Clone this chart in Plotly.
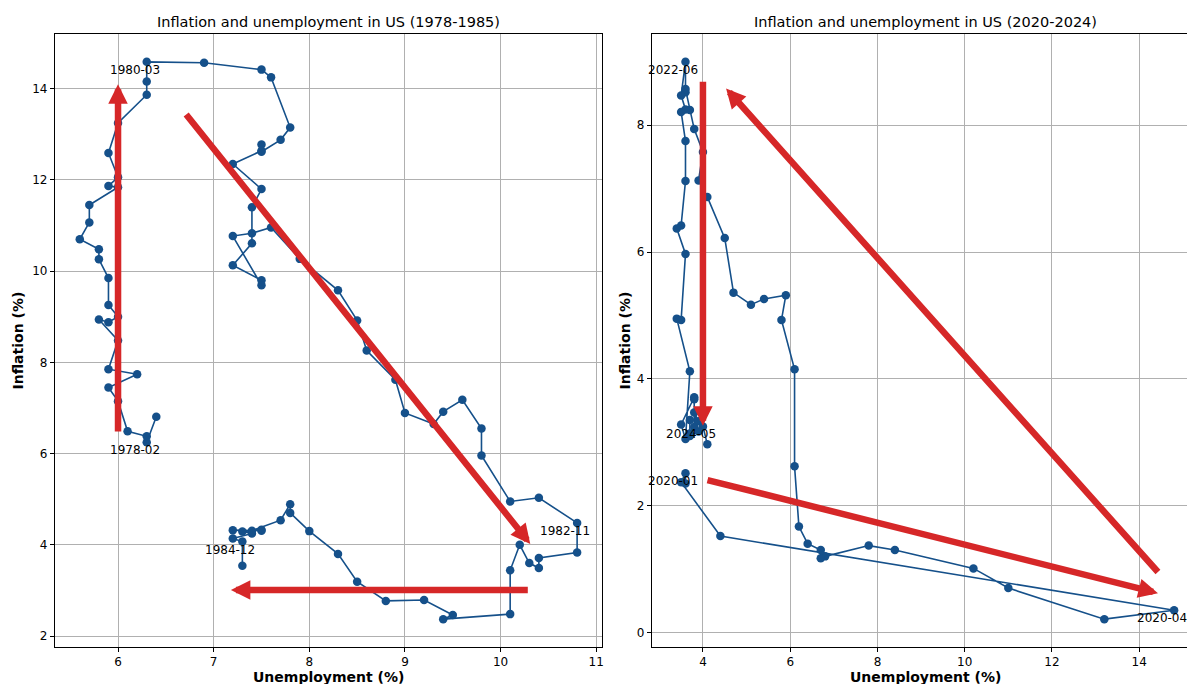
import plotly.graph_objects as go

# ---------------- data: US 1978-1985 ----------------
dates_7885 = ["1978-01","1978-02","1978-03","1978-04","1978-05","1978-06","1978-07","1978-08","1978-09","1978-10","1978-11","1978-12",
              "1979-01","1979-02","1979-03","1979-04","1979-05","1979-06","1979-07","1979-08","1979-09","1979-10","1979-11","1979-12",
              "1980-01","1980-02","1980-03","1980-04","1980-05","1980-06","1980-07","1980-08","1980-09","1980-10","1980-11","1980-12",
              "1981-01","1981-02","1981-03","1981-04","1981-05","1981-06","1981-07","1981-08","1981-09","1981-10","1981-11","1981-12",
              "1982-01","1982-02","1982-03","1982-04","1982-05","1982-06","1982-07","1982-08","1982-09","1982-10","1982-11","1982-12",
              "1983-01","1983-02","1983-03","1983-04","1983-05","1983-06","1983-07","1983-08","1983-09","1983-10","1983-11","1983-12",
              "1984-01","1984-02","1984-03","1984-04","1984-05","1984-06","1984-07","1984-08","1984-09","1984-10","1984-11","1984-12",
              "1985-01"]
unemp_7885 = [6.4, 6.3, 6.3, 6.1, 6.0, 5.9, 6.2, 5.9, 6.0, 5.8, 5.9, 6.0,
              5.9, 5.9, 5.8, 5.8, 5.6, 5.7, 5.7, 6.0, 5.9, 6.0, 5.9, 6.0,
              6.3, 6.3, 6.3, 6.9, 7.5, 7.6, 7.8, 7.7, 7.5, 7.5, 7.5, 7.2,
              7.5, 7.4, 7.4, 7.2, 7.5, 7.5, 7.2, 7.4, 7.6, 7.9, 8.3, 8.5,
              8.6, 8.9, 9.0, 9.3, 9.4, 9.6, 9.8, 9.8, 10.1, 10.4, 10.8, 10.8,
              10.4, 10.4, 10.3, 10.2, 10.1, 10.1, 9.4, 9.5, 9.2, 8.8, 8.5, 8.3,
              8.0, 7.8, 7.8, 7.7, 7.4, 7.2, 7.5, 7.5, 7.3, 7.4, 7.2, 7.3,
              7.3]
infl_7885 = [6.81, 6.25, 6.38, 6.49, 7.15, 7.45, 7.74, 7.85, 8.48, 8.94, 8.88, 9.00,
             9.26, 9.85, 10.26, 10.48, 10.70, 11.07, 11.45, 11.84, 11.87, 12.06, 12.59, 13.25,
             13.87, 14.16, 14.59, 14.57, 14.42, 14.25, 13.15, 12.88, 12.62, 12.78, 12.64, 12.35,
             11.80, 11.40, 10.61, 10.13, 9.80, 9.69, 10.77, 10.83, 10.96, 10.27, 9.58, 8.92,
             8.26, 7.62, 6.89, 6.65, 6.92, 7.18, 6.55, 5.96, 4.95, 5.03, 4.48, 3.83,
             3.71, 3.49, 3.60, 4.00, 3.44, 2.48, 2.37, 2.46, 2.79, 2.77, 3.19, 3.80,
             4.30, 4.70, 4.89, 4.54, 4.31, 4.32, 4.31, 4.33, 4.29, 4.25, 4.14, 4.07,
             3.54]
labels_7885 = ["1978-02", "1980-03", "1982-11", "1984-12"]
# arrows (tail_x, tail_y, tip_x, tip_y)
arrows_7885 = [(6.0, 6.45, 6.0, 14.1),
               (6.7, 13.47, 10.31, 4.02),
               (10.3, 3.01, 7.18, 3.01)]

# ---------------- data: US 2020-2024 ----------------
dates_2024 = ["2019-12",
              "2020-01","2020-02","2020-03","2020-04","2020-05","2020-06","2020-07","2020-08","2020-09","2020-10","2020-11","2020-12",
              "2021-01","2021-02","2021-03","2021-04","2021-05","2021-06","2021-07","2021-08","2021-09","2021-10","2021-11","2021-12",
              "2022-01","2022-02","2022-03","2022-04","2022-05","2022-06","2022-07","2022-08","2022-09","2022-10","2022-11","2022-12",
              "2023-01","2023-02","2023-03","2023-04","2023-05","2023-06","2023-07","2023-08","2023-09","2023-10","2023-11","2023-12",
              "2024-01","2024-02","2024-03","2024-04","2024-05","2024-06"]
unemp_2024 = [3.6,
              3.6, 3.5, 4.4, 14.8, 13.2, 11.0, 10.2, 8.4, 7.8, 6.8, 6.7, 6.7,
              6.4, 6.2, 6.1, 6.1, 5.8, 5.9, 5.4, 5.1, 4.7, 4.5, 4.1, 3.9,
              4.0, 3.8, 3.6, 3.7, 3.6, 3.6, 3.5, 3.6, 3.5, 3.6, 3.6, 3.5,
              3.4, 3.6, 3.5, 3.4, 3.7, 3.6, 3.5, 3.8, 3.8, 3.8, 3.7, 3.7,
              3.7, 3.9, 3.8, 3.9, 4.0, 4.1]
infl_2024 = [2.35,
             2.51, 2.37, 1.52, 0.35, 0.21, 0.70, 1.01, 1.30, 1.37, 1.20, 1.17, 1.30,
             1.40, 1.67, 2.62, 4.15, 4.93, 5.32, 5.26, 5.17, 5.36, 6.22, 6.87, 7.13,
             7.58, 7.94, 8.52, 8.24, 8.57, 9.00, 8.47, 8.25, 8.21, 7.75, 7.12, 6.42,
             6.37, 5.97, 4.93, 4.95, 4.12, 3.05, 3.28, 3.71, 3.68, 3.24, 3.14, 3.35,
             3.10, 3.17, 3.47, 3.33, 3.25, 2.97]
labels_2024 = ["2020-01", "2020-04", "2022-06", "2024-05"]
arrows_2024 = [(4.0, 8.71, 4.0, 3.26),
               (14.46, 0.93, 4.53, 8.58),
               (4.07, 2.41, 14.43, 0.62)]

titles = ["Inflation and unemployment in US (1978-1985)",
          "Inflation and unemployment in US (2020-2024)"]

# ---------------- styling ----------------
W, H = 1189, 684
LINE = "#15508a"
RED = "#d62728"
FONT = "DejaVu Sans"

def pad(lo, hi, f=0.05):
    d = (hi - lo) * f
    return [lo - d, hi + d]

fig = go.Figure()
fig.add_trace(go.Scatter(x=unemp_7885, y=infl_7885, mode="lines+markers", xaxis="x", yaxis="y",
                         line=dict(color=LINE, width=1.6), marker=dict(color=LINE, size=8.5),
                         showlegend=False, cliponaxis=False))
fig.add_trace(go.Scatter(x=unemp_2024, y=infl_2024, mode="lines+markers", xaxis="x2", yaxis="y2",
                         line=dict(color=LINE, width=1.6), marker=dict(color=LINE, size=8.5),
                         showlegend=False, cliponaxis=True))

# panel geometry (pixels)
L1, R1 = 55, 603
L2, R2full = 653, 1201
TOP, BOT = 34, 647
ydom = [(H - BOT) / H, (H - TOP) / H]

xr1 = pad(min(unemp_7885), max(unemp_7885))
yr1 = pad(min(infl_7885), max(infl_7885))
xr2f = pad(min(unemp_2024), max(unemp_2024))
yr2 = pad(min(infl_2024), max(infl_2024))
# right panel is cut by the page edge
vis = (W - L2) / (R2full - L2)
xr2 = [xr2f[0], xr2f[0] + (xr2f[1] - xr2f[0]) * vis]

axis_common = dict(showgrid=True, gridcolor="#b0b0b0", gridwidth=0.8, zeroline=False,
                   showline=True, linecolor="black", linewidth=1,
                   ticks="outside", ticklen=4, tickwidth=1, tickcolor="black",
                   tickfont=dict(family=FONT, size=12, color="black"))

fig.update_layout(
    width=W, height=H, margin=dict(l=0, r=0, t=0, b=0),
    paper_bgcolor="white", plot_bgcolor="white",
    font=dict(family=FONT, color="black"),
    xaxis=dict(domain=[L1 / W, R1 / W], anchor="y", range=xr1, tickvals=[6, 7, 8, 9, 10, 11],
               mirror=True, **axis_common),
    yaxis=dict(domain=ydom, anchor="x", range=yr1, tickvals=[2, 4, 6, 8, 10, 12, 14],
               mirror=True, **axis_common),
    xaxis2=dict(domain=[L2 / W, 1.0], anchor="y2", range=xr2, tickvals=[4, 6, 8, 10, 12, 14],
                mirror=True, **axis_common),
    yaxis2=dict(domain=ydom, anchor="x2", range=yr2, tickvals=[0, 2, 4, 6, 8],
                mirror=False, **axis_common),
)

anns = []
# titles and axis labels
centers = [(L1 + R1) / 2, (L2 + R2full) / 2]
ylab_x = [18, 626]
for i, c in enumerate(centers):
    anns.append(dict(text=titles[i], x=c / W, y=(H - 22) / H, xref="paper", yref="paper",
                     showarrow=False, xanchor="center", yanchor="middle",
                     font=dict(family=FONT, size=14.5, color="black")))
    anns.append(dict(text="<b>Unemployment (%)</b>", x=c / W, y=(H - 677) / H, xref="paper", yref="paper",
                     showarrow=False, xanchor="center", yanchor="middle",
                     font=dict(family=FONT, size=14, color="black")))
    anns.append(dict(text="<b>Inflation (%)</b>", x=ylab_x[i] / W, y=(H - (TOP + BOT) / 2) / H,
                     xref="paper", yref="paper", textangle=-90,
                     showarrow=False, xanchor="center", yanchor="middle",
                     font=dict(family=FONT, size=14, color="black")))

# arrows
for (ax_, ay_, x_, y_) in arrows_7885:
    anns.append(dict(x=x_, y=y_, ax=ax_, ay=ay_, xref="x", yref="y", axref="x", ayref="y",
                     text="", showarrow=True, arrowhead=2, arrowsize=0.6, arrowwidth=6.5,
                     arrowcolor=RED, standoff=0, startstandoff=0))
for (ax_, ay_, x_, y_) in arrows_2024:
    anns.append(dict(x=x_, y=y_, ax=ax_, ay=ay_, xref="x2", yref="y2", axref="x2", ayref="y2",
                     text="", showarrow=True, arrowhead=2, arrowsize=0.6, arrowwidth=6.5,
                     arrowcolor=RED, standoff=0, startstandoff=0))

# date labels
for lab in labels_7885:
    i = dates_7885.index(lab)
    anns.append(dict(text=lab, x=unemp_7885[i], y=infl_7885[i], xref="x", yref="y",
                     showarrow=False, xshift=-12, yshift=-8, xanchor="center", yanchor="middle",
                     font=dict(family=FONT, size=12, color="black")))
for lab in labels_2024:
    i = dates_2024.index(lab)
    anns.append(dict(text=lab, x=unemp_2024[i], y=infl_2024[i], xref="x2", yref="y2",
                     showarrow=False, xshift=-12, yshift=-8, xanchor="center", yanchor="middle",
                     font=dict(family=FONT, size=12, color="black")))

fig.update_layout(annotations=anns)
fig.write_html("out.html")
